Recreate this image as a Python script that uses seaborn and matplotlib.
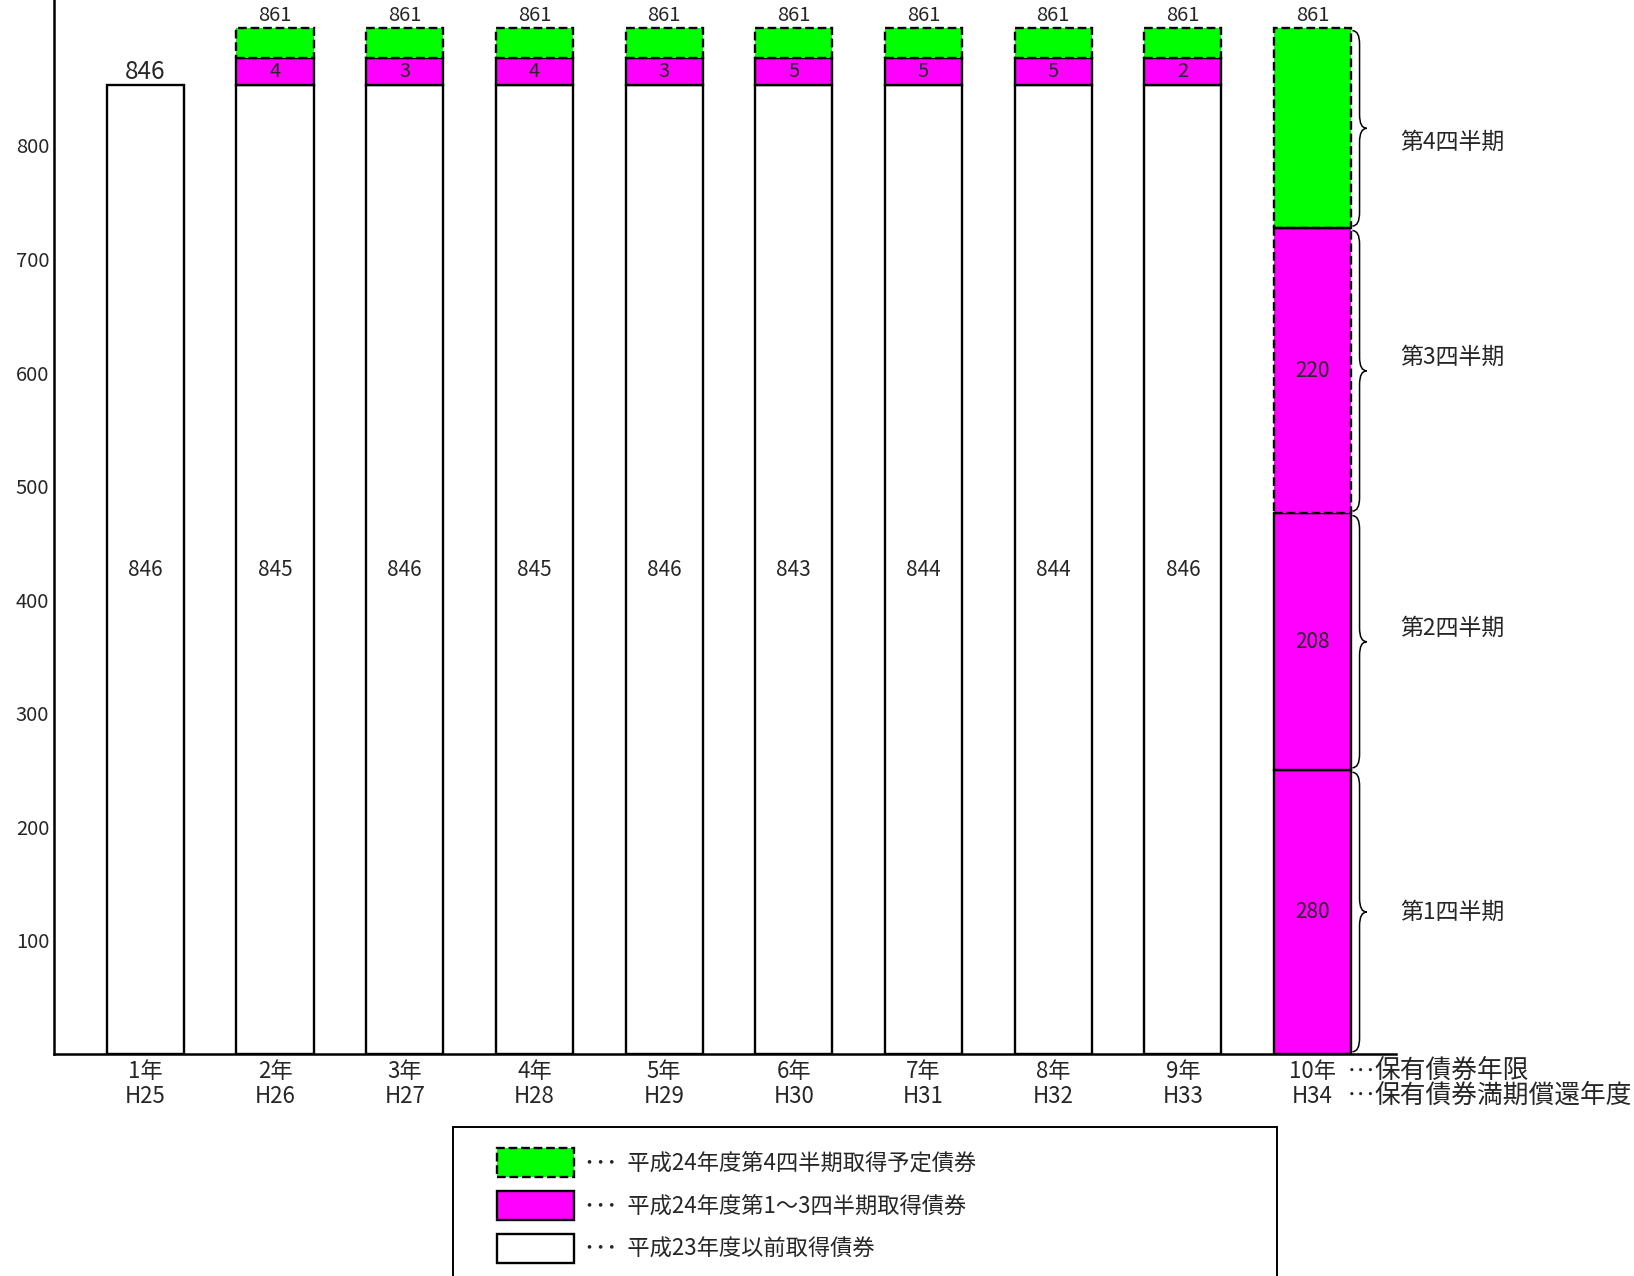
import pandas as pd
import matplotlib
matplotlib.use("Agg")
from matplotlib import pyplot as plt
from matplotlib.patches import Patch, Rectangle, PathPatch
from matplotlib.path import Path
import seaborn as sns

# holding period / redemption fiscal year
years = ["1年", "2年", "3年", "4年", "5年", "6年", "7年", "8年", "9年", "10年"]
redeem = ["H25", "H26", "H27", "H28", "H29", "H30", "H31", "H32", "H33", "H34"]

# the chart is schematic: drawn heights, labels are the printed numbers
old_years = years[:9]
old_height = [853, 853, 853, 853, 853, 853, 853, 853, 853]
old_label = [846, 845, 846, 845, 846, 843, 844, 844, 846]

q13_years = years[1:9]
q13_height = [24, 24, 24, 24, 24, 24, 24, 24]
q13_label = [4, 3, 4, 3, 5, 5, 5, 2]

q4_years = years[1:9]
q4_height = [26, 26, 26, 26, 26, 26, 26, 26]

top_label = [846, 861, 861, 861, 861, 861, 861, 861, 861, 861]

# 10-year bonds, split by quarter
quarters = ["第1四半期", "第2四半期", "第3四半期", "第4四半期"]
q10_height = [250, 226, 251, 176]
q10_label = ["280", "208", "220", ""]

legend_labels = ["･･･  平成24年度第4四半期取得予定債券",
                 "･･･  平成24年度第1～3四半期取得債券",
                 "･･･  平成23年度以前取得債券"]
row_notes = ["保有債券年限", "保有債券満期償還年度"]

GREEN = "#00ff00"
MAGENTA = "#ff00ff"

sns.set_style("white")
plt.rcParams['font.family'] = ['Noto Sans CJK JP', 'DejaVu Sans']

W, H = 1634, 1276
fig = plt.figure(figsize=(W / 100, H / 100), dpi=100)
ax = fig.add_axes([54 / W, 1 - 1054 / H, (1396 - 54) / W, 1054 / H])

BW = 0.594
LW = 1.7


def layer(x, h, bottom, color, ls="-"):
    df = pd.DataFrame({"year": x, "h": h})
    sns.barplot(data=df, x="year", y="h", order=years, ax=ax, width=BW,
                bottom=bottom, color=color, saturation=1, edgecolor="black",
                linewidth=LW, linestyle=ls, errorbar=None)


old_top = list(old_height)
q13_bottom = old_top[1:]
q13_top = [b + h for b, h in zip(q13_bottom, q13_height)]
q4_top = [b + h for b, h in zip(q13_top, q4_height)]

layer(old_years, old_height, 0, "white")
layer(q13_years, q13_height, q13_bottom, MAGENTA)

q10_bottom = [0]
for h in q10_height[:-1]:
    q10_bottom.append(q10_bottom[-1] + h)
layer([years[9]], [q10_height[0]], q10_bottom[0], MAGENTA)
layer([years[9]], [q10_height[1]], q10_bottom[1], MAGENTA)
layer([years[9]], [q10_height[2]], q10_bottom[2], MAGENTA, "--")
layer([years[9]], [q10_height[3]], q10_bottom[3], GREEN, "--")
layer(q4_years, q4_height, q13_top, GREEN, "--")
# solid seam between the 3rd and 4th quarter blocks
ax.hlines(q10_bottom[3], 9 - BW / 2, 9 + BW / 2, colors="black", lw=LW)

# labels inside bars
for i, v in enumerate(old_label):
    ax.text(i, old_height[i] / 2, str(v), ha="center", va="center", fontsize=15)
for i, v in enumerate(q13_label):
    ax.text(i + 1, q13_bottom[i] + q13_height[i] / 2, str(v),
            ha="center", va="center", fontsize=14.5)
for b, h, t in zip(q10_bottom, q10_height, q10_label):
    if t:
        ax.text(9, b + h / 2, t, ha="center", va="center", fontsize=15)

# totals above bars
tops = [old_top[0]] + q4_top + [q10_bottom[-1] + q10_height[-1]]
for i, v in enumerate(top_label):
    ax.annotate(str(v), (i, tops[i]), xytext=(0, 9.5), textcoords="offset points",
                ha="center", va="center", fontsize=17.5 if i == 0 else 14.5)


# curly braces beside the 10-year bar
def brace(y0, y1, x0, w=0.11, r=12):
    ym = (y0 + y1) / 2
    xm = x0 + w / 2
    verts = [(x0, y0), (xm, y0), (xm, y0 + r),
             (xm, ym - r), (xm, ym), (x0 + w, ym),
             (xm, ym), (xm, ym + r),
             (xm, y1 - r), (xm, y1), (x0, y1)]
    codes = [Path.MOVETO, Path.CURVE3, Path.CURVE3,
             Path.LINETO, Path.CURVE3, Path.CURVE3,
             Path.CURVE3, Path.CURVE3,
             Path.LINETO, Path.CURVE3, Path.CURVE3]
    ax.add_patch(PathPatch(Path(verts, codes), fill=False, lw=1.1,
                           ec="black", clip_on=False))


label_shift = [0, 12, 12, -12]
x_edge = 9 + BW / 2 + 0.01
for b, h, q, dy in zip(q10_bottom, q10_height, quarters, label_shift):
    brace(b + 2, b + h - 2, x_edge)
    ax.text(9.672, b + h / 2 + dy, q, ha="left", va="center", fontsize=16.5)

ax.set_xlim(-0.704, 9.643)
ax.set_ylim(0, 928)
ax.set_yticks([100, 200, 300, 400, 500, 600, 700, 800])
ax.set_xticks(range(10))
ax.set_xticklabels([f"{a}\n{b}" for a, b in zip(years, redeem)], linespacing=1.12)
ax.tick_params(axis="y", length=0, pad=3.5, labelsize=14.5)
ax.tick_params(axis="x", length=0, pad=4, labelsize=16)
ax.set_xlabel("")
ax.set_ylabel("")
for s in ["top", "right"]:
    ax.spines[s].set_visible(False)
for s in ["left", "bottom"]:
    ax.spines[s].set_linewidth(1.8)
    ax.spines[s].set_color("black")

# notes to the right of the two tick rows
xt = ax.get_xaxis_transform()
for yy, note in zip([-0.016, -0.0395], row_notes):
    ax.text(9.262, yy, "･･･", transform=xt, ha="left", va="center", fontsize=14)
    ax.text(9.48, yy, note, transform=xt, ha="left", va="center", fontsize=18.5)

# legend in a box that runs off the bottom of the page
fig.add_artist(Rectangle((453 / W, 1 - 1300 / H), (1277 - 453) / W, (1300 - 1127) / H,
                         transform=fig.transFigure, fill=False, lw=1.4, ec="black"))
handles = [Patch(facecolor=GREEN, edgecolor="black", linestyle="--", linewidth=LW),
           Patch(facecolor=MAGENTA, edgecolor="black", linewidth=LW),
           Patch(facecolor="white", edgecolor="black", linewidth=LW)]
fs = 16
px = fs * 100 / 72
fig.legend(handles, legend_labels, loc="upper left",
           bbox_to_anchor=(497 / W, 1 - 1148 / H), frameon=False, fontsize=fs,
           handlelength=77 / px, handleheight=1.63, labelspacing=0.63,
           handletextpad=10 / px, borderpad=0, borderaxespad=0)

fig.savefig("out.png", dpi=100)
